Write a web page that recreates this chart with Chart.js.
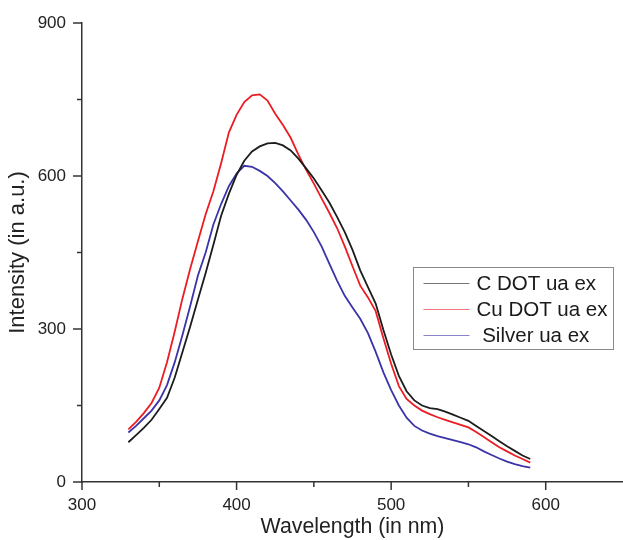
<!DOCTYPE html>
<html>
<head>
    <title>Emission Spectra</title>
    <script src="https://cdn.jsdelivr.net/npm/chart.js"></script>
    <style>
        html, body { margin: 0; padding: 0; background: #fff; }
    </style>
</head>
<body>
    <div style="width: 623px; height: 540px">
        <canvas id="spectraChart"></canvas>
    </div>
    <script>
        // wavelength (nm), 5 nm steps
        const wavelengths = [
            330, 335, 340, 345, 350, 355, 360, 365, 370, 375,
            380, 385, 390, 395, 400, 405, 410, 415, 420, 425,
            430, 435, 440, 445, 450, 455, 460, 465, 470, 475,
            480, 485, 490, 495, 500, 505, 510, 515, 520, 525,
            530, 535, 540, 545, 550, 555, 560, 565, 570, 575,
            580, 585, 590
        ];
        const seriesLabels = ['C DOT ua ex', 'Cu DOT ua ex', ' Silver ua ex'];
        const cDot = [
            78, 92, 106, 122, 143, 165, 205, 255, 305, 358,
            410, 465, 522, 565, 602, 630, 648, 658, 664, 665,
            660, 650, 634, 615, 595, 572, 548, 520, 490, 455,
            415, 382, 350, 298, 250, 208, 178, 160, 150, 145,
            143, 138, 132, 126, 120, 110, 100, 90, 80, 70,
            61, 52, 45
        ];
        const cuDot = [
            103, 118, 135, 155, 185, 235, 295, 360, 418, 472,
            525, 570, 625, 685, 720, 745, 758, 760, 748, 722,
            700, 675, 642, 612, 585, 556, 528, 498, 462, 423,
            385, 362, 335, 282, 232, 188, 163, 150, 140, 133,
            127, 122, 117, 112, 107, 98, 88, 78, 68, 60,
            52, 45, 38
        ];
        const silver = [
            97, 110, 125, 140, 160, 190, 235, 288, 345, 405,
            450, 505, 545, 580, 605, 620, 618, 610, 600, 586,
            570, 552, 534, 514, 490, 462, 428, 395, 365, 342,
            320, 292, 255, 215, 180, 150, 126, 110, 101, 95,
            90, 86, 82, 78, 74, 68, 60, 53, 46, 40,
            35, 31, 28
        ];
        const xTicks = [300, 350, 400, 450, 500, 550, 600];
        const yTicks = [0, 150, 300, 450, 600, 750, 900];

        const colors = ['#1c1c1c', '#ec1c24', '#3a34a8'];
        const toPoints = ys => wavelengths.map((w, i) => ({ x: w, y: ys[i] }));

        // outward tick marks, long on labelled values, short between
        const tickMarks = {
            id: 'tickMarks',
            afterDraw(chart) {
                const { ctx } = chart;
                const xs = chart.scales.x, ys = chart.scales.y;
                const axisY = ys.getPixelForValue(0);
                const axisX = xs.getPixelForValue(300);
                ctx.save();
                ctx.strokeStyle = '#333';
                ctx.lineWidth = 1.5;
                xTicks.forEach(v => {
                    const px = xs.getPixelForValue(v);
                    const len = v % 100 === 0 ? 8 : 5;
                    ctx.beginPath();
                    ctx.moveTo(px, axisY);
                    ctx.lineTo(px, axisY + len);
                    ctx.stroke();
                });
                yTicks.forEach(v => {
                    const py = ys.getPixelForValue(v);
                    const len = v % 300 === 0 ? 9 : 5;
                    ctx.beginPath();
                    ctx.moveTo(axisX, py);
                    ctx.lineTo(axisX - len, py);
                    ctx.stroke();
                });
                ctx.restore();
            }
        };

        // boxed legend inside the plot, like the original figure
        const boxLegend = {
            id: 'boxLegend',
            afterDatasetsDraw(chart) {
                const { ctx, chartArea } = chart;
                const bx = chartArea.left + 331.5;
                const by = chartArea.top + 244.5;
                const bw = 200, bh = 82;
                ctx.save();
                ctx.fillStyle = '#fff';
                ctx.fillRect(bx, by, bw, bh);
                ctx.strokeStyle = '#8a8a8a';
                ctx.lineWidth = 1;
                ctx.strokeRect(bx, by, bw, bh);
                ctx.font = '20.5px "Liberation Sans", Arial, sans-serif';
                ctx.textBaseline = 'middle';
                chart.data.datasets.forEach((ds, i) => {
                    const ry = by + 16 + i * 26;
                    ctx.strokeStyle = ds.borderColor;
                    ctx.globalAlpha = 0.6;
                    ctx.lineWidth = 1.2;
                    ctx.beginPath();
                    ctx.moveTo(bx + 10, ry);
                    ctx.lineTo(bx + 56, ry);
                    ctx.stroke();
                    ctx.globalAlpha = 1;
                    ctx.fillStyle = '#1a1a1a';
                    ctx.fillText(ds.label, bx + 63, ry + 1);
                });
                ctx.restore();
            }
        };

        const ctx = document.getElementById('spectraChart').getContext('2d');
        new Chart(ctx, {
            type: 'line',
            data: {
                datasets: [cDot, cuDot, silver].map((ys, i) => ({
                    label: seriesLabels[i],
                    data: toPoints(ys),
                    borderColor: colors[i],
                    borderWidth: 1.8,
                    pointRadius: 0,
                    tension: 0,
                    fill: false
                }))
            },
            options: {
                responsive: true,
                maintainAspectRatio: false,
                animation: false,
                layout: { padding: { top: 23, right: 0, left: 0, bottom: 0 } },
                plugins: {
                    legend: { display: false },
                    tooltip: { enabled: false }
                },
                scales: {
                    x: {
                        type: 'linear',
                        min: 300,
                        max: 650,
                        afterBuildTicks: s => { s.ticks = xTicks.map(v => ({ value: v })); },
                        afterFit: s => { s.height = 58; },
                        grid: { display: false },
                        border: { display: true, color: '#333', width: 1.5 },
                        ticks: {
                            padding: 5,
                            color: '#222',
                            font: { family: '"Liberation Sans", Arial, sans-serif', size: 17 },
                            callback: v => (v % 100 === 0 ? v : '')
                        },
                        title: {
                            display: true,
                            text: 'Wavelength (in nm)',
                            color: '#222',
                            font: { family: '"Liberation Sans", Arial, sans-serif', size: 21.3 },
                            padding: { top: 0, bottom: 0 }
                        }
                    },
                    y: {
                        min: 0,
                        max: 900,
                        afterBuildTicks: s => { s.ticks = yTicks.map(v => ({ value: v })); },
                        afterFit: s => { s.width = 82; },
                        grid: { display: false },
                        border: { display: true, color: '#333', width: 1.5 },
                        ticks: {
                            padding: 8,
                            color: '#222',
                            font: { family: '"Liberation Sans", Arial, sans-serif', size: 17 },
                            callback: v => (v % 300 === 0 ? v : '')
                        },
                        title: {
                            display: true,
                            text: 'Intensity (in a.u.)',
                            color: '#222',
                            font: { family: '"Liberation Sans", Arial, sans-serif', size: 22 },
                            padding: { top: 5, bottom: 0 }
                        }
                    }
                }
            },
            plugins: [tickMarks, boxLegend]
        });
    </script>
</body>
</html>
